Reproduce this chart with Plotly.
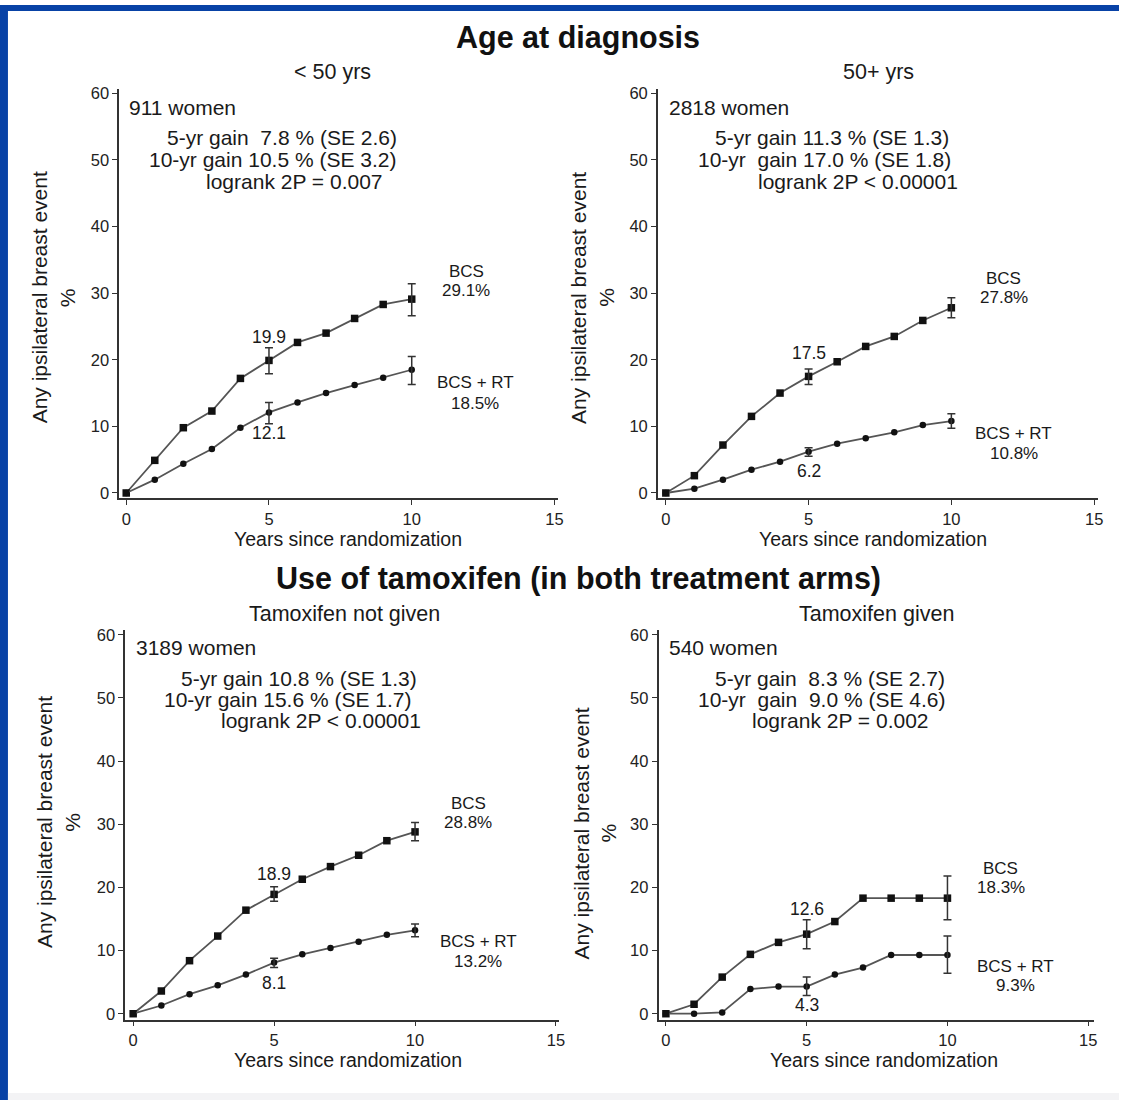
import plotly.graph_objects as go

W, H = 1126, 1104

# ---------------- data ----------------
years = [0, 1, 2, 3, 4, 5, 6, 7, 8, 9, 10]
err_years = [5, 10]

# Age < 50
lt50_bcs = [0, 4.9, 9.8, 12.3, 17.2, 19.9, 22.6, 24.0, 26.2, 28.3, 29.1]
lt50_rt = [0, 2.0, 4.4, 6.6, 9.8, 12.1, 13.6, 15.0, 16.2, 17.3, 18.5]
lt50_bcs_hi = [21.8, 31.4]
lt50_bcs_lo = [17.9, 26.6]
lt50_rt_hi = [13.6, 20.5]
lt50_rt_lo = [10.4, 16.3]

# Age 50+
ge50_bcs = [0, 2.6, 7.2, 11.5, 15.0, 17.5, 19.7, 22.0, 23.5, 25.9, 27.8]
ge50_rt = [0, 0.65, 2.0, 3.5, 4.7, 6.2, 7.4, 8.2, 9.1, 10.2, 10.8]
ge50_bcs_hi = [18.6, 29.3]
ge50_bcs_lo = [16.3, 26.3]
ge50_rt_hi = [6.8, 11.9]
ge50_rt_lo = [5.5, 9.7]

# Tamoxifen not given
notam_bcs = [0, 3.6, 8.4, 12.3, 16.4, 18.9, 21.3, 23.3, 25.1, 27.4, 28.8]
notam_rt = [0, 1.3, 3.1, 4.5, 6.2, 8.1, 9.4, 10.4, 11.4, 12.5, 13.2]
notam_bcs_hi = [20.1, 30.3]
notam_bcs_lo = [17.8, 27.4]
notam_rt_hi = [8.8, 14.2]
notam_rt_lo = [7.3, 12.2]

# Tamoxifen given
tam_bcs = [0, 1.5, 5.8, 9.4, 11.3, 12.6, 14.6, 18.3, 18.3, 18.3, 18.3]
tam_rt = [0, 0, 0.2, 3.9, 4.3, 4.3, 6.2, 7.3, 9.3, 9.3, 9.3]
tam_bcs_hi = [14.9, 21.8]
tam_bcs_lo = [10.3, 14.9]
tam_rt_hi = [5.8, 12.3]
tam_rt_lo = [2.9, 6.4]

y_ticks = [0, 10, 20, 30, 40, 50, 60]
x_ticks = [0, 5, 10, 15]

section_titles = ["Age at diagnosis", "Use of tamoxifen (in both treatment arms)"]
panel_titles = ["< 50 yrs", "50+ yrs", "Tamoxifen not given", "Tamoxifen given"]
women = ["911 women", "2818 women", "3189 women", "540 women"]
gain5 = ["5-yr gain  7.8 % (SE 2.6)", "5-yr gain 11.3 % (SE 1.3)",
         "5-yr gain 10.8 % (SE 1.3)", "5-yr gain  8.3 % (SE 2.7)"]
gain10 = ["10-yr gain 10.5 % (SE 3.2)", "10-yr  gain 17.0 % (SE 1.8)",
          "10-yr gain 15.6 % (SE 1.7)", "10-yr  gain  9.0 % (SE 4.6)"]
logrank = ["logrank 2P = 0.007", "logrank 2P < 0.00001",
           "logrank 2P < 0.00001", "logrank 2P = 0.002"]
bcs_end = ["29.1%", "27.8%", "28.8%", "18.3%"]
rt_end = ["18.5%", "10.8%", "13.2%", "9.3%"]

# --------------- layout helpers ---------------
def px(x):
    return x / W

def py(y):
    return 1 - y / H

FONT = "Liberation Sans, Arial, Helvetica, sans-serif"
LINE_C = "#555555"
MARK_C = "#111111"
TEXT_C = "#1a1a1a"

panels = [
    dict(bcs=lt50_bcs, rt=lt50_rt, bh=lt50_bcs_hi, bl=lt50_bcs_lo, rh=lt50_rt_hi, rl=lt50_rt_lo,
         xdom=(120, 561), xr=(-0.244, 15.106), ydom=(85, 497), yr=(-0.744, 60.596),
         ytitle_x=40, ypct_x=68, ytitle_y=295, xtitle=(350, 538), ptitle=(335, 68),
         women=(128, 103), g5=(166, 134), g10=(148, 156), lr=(205, 178),
         bcs_lab=(469, 269, 288), rt_lab=(478, 381, 402), up=23, dn=-21),
    dict(bcs=ge50_bcs, rt=ge50_rt, bh=ge50_bcs_hi, bl=ge50_bcs_lo, rh=ge50_rt_hi, rl=ge50_rt_lo,
         xdom=(662, 1105), xr=(-0.278, 15.14), ydom=(85, 497), yr=(-0.744, 60.596),
         ytitle_x=582, ypct_x=610, ytitle_y=295, xtitle=(878, 538), ptitle=(884, 68),
         women=(671, 103), g5=(717, 134), g10=(700, 156), lr=(761, 178),
         bcs_lab=(1010, 276, 295), rt_lab=(1020, 432, 452), up=23.5, dn=-19),
    dict(bcs=notam_bcs, rt=notam_rt, bh=notam_bcs_hi, bl=notam_bcs_lo, rh=notam_rt_hi, rl=notam_rt_lo,
         xdom=(126, 562), xr=(-0.282, 15.09), ydom=(630, 1023), yr=(-0.94, 60.79),
         ytitle_x=45, ypct_x=73, ytitle_y=824, xtitle=(350, 1064), ptitle=(347, 614),
         women=(135, 648), g5=(180, 679), g10=(163, 700), lr=(220, 721),
         bcs_lab=(471, 805, 824), rt_lab=(481, 944, 964), up=20, dn=-20),
    dict(bcs=tam_bcs, rt=tam_rt, bh=tam_bcs_hi, bl=tam_bcs_lo, rh=tam_rt_hi, rl=tam_rt_lo,
         xdom=(662.7, 1101), xr=(-0.26, 15.21), ydom=(630, 1023), yr=(-0.94, 60.79),
         ytitle_x=585, ypct_x=612, ytitle_y=835, xtitle=(890, 1064), ptitle=(882, 614),
         women=(671, 648), g5=(717, 679), g10=(700, 700), lr=(755, 721),
         bcs_lab=(1007, 871, 890), rt_lab=(1022, 969, 989), up=25, dn=-18),
]

fig = go.Figure()
annotations = []
layout_axes = {}


def txt(xy, s, size, anchor="center", bold=False, angle=0, color=TEXT_C):
    annotations.append(dict(x=px(xy[0]), y=py(xy[1]), xref="paper", yref="paper",
                            text=f"<b>{s}</b>" if bold else s, showarrow=False,
                            xanchor=anchor, yanchor="middle", textangle=angle,
                            font=dict(family=FONT, size=size, color=color)))


for i, p in enumerate(panels):
    n = i + 1
    xa = "x" if n == 1 else f"x{n}"
    ya = "y" if n == 1 else f"y{n}"
    xkey = "xaxis" if n == 1 else f"xaxis{n}"
    ykey = "yaxis" if n == 1 else f"yaxis{n}"

    common_axis = dict(showline=True, linecolor="#333333", linewidth=1.6,
                       ticks="outside", ticklen=5, tickwidth=1.3, tickcolor="#333333",
                       showgrid=False, zeroline=False,
                       tickfont=dict(family=FONT, size=16.5, color="#222222"))
    layout_axes[xkey] = dict(common_axis, domain=[px(p["xdom"][0]), px(p["xdom"][1])],
                             range=list(p["xr"]), tickvals=x_ticks, anchor=ya)
    layout_axes[ykey] = dict(common_axis, domain=[py(p["ydom"][1]), py(p["ydom"][0])],
                             range=list(p["yr"]), tickvals=y_ticks, anchor=xa)

    # lines + markers
    fig.add_trace(go.Scatter(x=years, y=p["bcs"], mode="lines+markers", xaxis=xa, yaxis=ya,
                             line=dict(color=LINE_C, width=1.8),
                             marker=dict(symbol="square", size=7.5, color=MARK_C),
                             showlegend=False, cliponaxis=False))
    fig.add_trace(go.Scatter(x=years, y=p["rt"], mode="lines+markers", xaxis=xa, yaxis=ya,
                             line=dict(color=LINE_C, width=1.8),
                             marker=dict(symbol="circle", size=6.5, color=MARK_C),
                             showlegend=False, cliponaxis=False))
    # error bars at 5 and 10 years
    for series, hi, lo in ((p["bcs"], p["bh"], p["bl"]), (p["rt"], p["rh"], p["rl"])):
        yv = [series[years.index(t)] for t in err_years]
        fig.add_trace(go.Scatter(
            x=err_years, y=yv, mode="markers", xaxis=xa, yaxis=ya,
            marker=dict(size=1, color="rgba(0,0,0,0)"),
            error_y=dict(type="data", symmetric=False,
                         array=[h - v for h, v in zip(hi, yv)],
                         arrayminus=[v - l for l, v in zip(lo, yv)],
                         color="#333333", thickness=1.5, width=4),
            showlegend=False, hoverinfo="skip"))

    # 5-year value labels
    annotations.append(dict(x=5, y=p["bcs"][5], xref=xa, yref=ya, text=f"{p['bcs'][5]:.1f}",
                            showarrow=False, yshift=p["up"],
                            font=dict(family=FONT, size=17.5, color=TEXT_C)))
    annotations.append(dict(x=5, y=p["rt"][5], xref=xa, yref=ya, text=f"{p['rt'][5]:.1f}",
                            showarrow=False, yshift=p["dn"],
                            font=dict(family=FONT, size=17.5, color=TEXT_C)))

    txt(p["ptitle"], panel_titles[i], 21.5)
    txt(p["women"], women[i], 21, "left")
    txt(p["g5"], gain5[i], 21, "left")
    txt(p["g10"], gain10[i], 21, "left")
    txt(p["lr"], logrank[i], 21, "left")
    txt((p["bcs_lab"][0], p["bcs_lab"][1]), "BCS", 17)
    txt((p["bcs_lab"][0], p["bcs_lab"][2]), bcs_end[i], 17)
    txt((p["rt_lab"][0], p["rt_lab"][1]), "BCS + RT", 17)
    txt((p["rt_lab"][0], p["rt_lab"][2]), rt_end[i], 17)
    txt(p["xtitle"], "Years since randomization", 19.5)
    txt((p["ytitle_x"], p["ytitle_y"]), "Any ipsilateral breast event", 21, angle=-90)
    txt((p["ypct_x"], p["ytitle_y"]), "%", 21, angle=-90)

# section titles
for s, (cx, cy) in zip(section_titles, [(582, 33), (582, 578)]):
    txt((cx, cy), s, 30.5, bold=True, color="#111111")

shapes = [
    dict(type="rect", xref="paper", yref="paper", x0=0, x1=1, y0=py(6), y1=1,
         fillcolor="#0842a6", line=dict(width=0), layer="below"),
    dict(type="rect", xref="paper", yref="paper", x0=0, x1=px(8), y0=0, y1=1,
         fillcolor="#0842a6", line=dict(width=0), layer="below"),
    dict(type="rect", xref="paper", yref="paper", x0=px(8), x1=1, y0=0, y1=py(1097),
         fillcolor="#f3f3f5", line=dict(width=0), layer="below"),
]

fig.update_layout(width=W, height=H, margin=dict(l=0, r=0, t=0, b=0),
                  paper_bgcolor="white", plot_bgcolor="white",
                  annotations=annotations, shapes=shapes, showlegend=False,
                  font=dict(family=FONT), **layout_axes)

fig.write_html(
    "out.html",
    config={"displayModeBar": False},
    post_script=(
        "document.body.style.margin='0';"
        "var d=document.getElementById('{plot_id}');"
        "d.style.position='absolute';d.style.left='0px';d.style.top='0px';"
    ),
)
